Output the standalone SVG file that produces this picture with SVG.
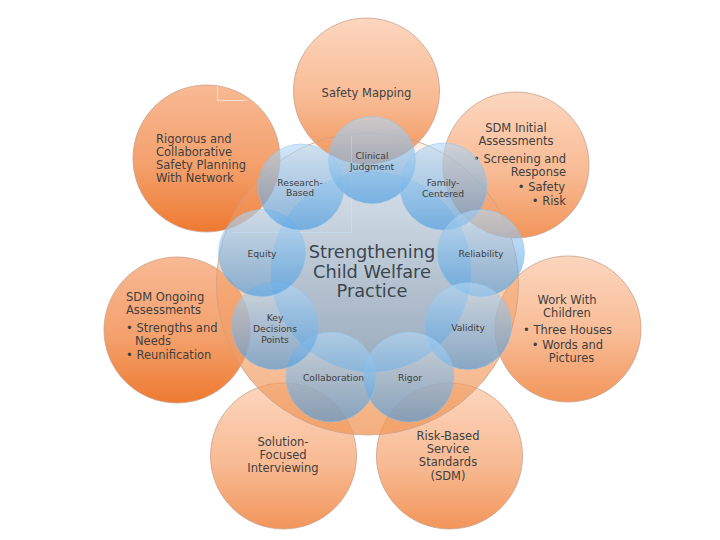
<svg xmlns="http://www.w3.org/2000/svg" width="720" height="540" viewBox="0 0 720 540">
  <defs>
    <linearGradient id="gLight" x1="0" y1="0" x2="0" y2="1">
      <stop offset="0" stop-color="#fcd6bf"/>
      <stop offset="0.55" stop-color="#f8bb94"/>
      <stop offset="1" stop-color="#f2955a"/>
    </linearGradient>
    <linearGradient id="gDeep" x1="0" y1="0" x2="0" y2="1">
      <stop offset="0" stop-color="#f8b994"/>
      <stop offset="0.55" stop-color="#f4a06c"/>
      <stop offset="1" stop-color="#ee7a30"/>
    </linearGradient>
    <linearGradient id="gBig" x1="0" y1="0" x2="0" y2="1">
      <stop offset="0" stop-color="#f3a878" stop-opacity="0.15"/>
      <stop offset="0.5" stop-color="#f2a068" stop-opacity="0.5"/>
      <stop offset="1" stop-color="#f0985a" stop-opacity="0.78"/>
    </linearGradient>
    <linearGradient id="gBlue" x1="0" y1="0" x2="0" y2="1">
      <stop offset="0" stop-color="#b4d8f4"/>
      <stop offset="1" stop-color="#4499e0"/>
    </linearGradient>
    <style>
      .outer { stroke: #c9a08a; stroke-width: 0.8; }
      .big { fill: url(#gBig); stroke: #c9a08a; stroke-width: 0.8; }
      .core { fill: url(#gBlue); fill-opacity: 0.52; stroke: #8cc2ec; stroke-opacity: 0.6; stroke-width: 0.6; }
      .small { fill: url(#gBlue); fill-opacity: 0.62; stroke: #8cc2ec; stroke-opacity: 0.8; stroke-width: 0.6; }
      text { font-family: "DejaVu Sans", Verdana, sans-serif; fill: #404040; }
      .t { font-size: 11.5px; }
      .s { font-size: 9.2px; text-anchor: middle; }
      .c { text-anchor: middle; }
      .r { text-anchor: end; }
      .title { font-size: 17.8px; text-anchor: middle; fill: #3c4650; }
      .art { fill: none; stroke: #ffffff; stroke-width: 1; stroke-opacity: 0.6; }
    </style>
  </defs>

  <g id="node-safety-mapping">
    <circle class="outer" cx="366.5" cy="91" r="73" fill="url(#gLight)"/>
    <text class="t c" x="366.5" y="97">Safety Mapping</text>
  </g>
  <g id="node-rigorous-safety-planning">
    <circle class="outer" cx="206.5" cy="158.5" r="73.5" fill="url(#gDeep)"/>
    <text class="t" x="156" y="143">Rigorous and</text>
    <text class="t" x="156" y="156">Collaborative</text>
    <text class="t" x="156" y="169">Safety Planning</text>
    <text class="t" x="156" y="182">With Network</text>
  </g>
  <g id="node-sdm-initial">
    <circle class="outer" cx="516" cy="165" r="73" fill="url(#gLight)"/>
    <text class="t c" x="516" y="132">SDM Initial</text>
    <text class="t c" x="516" y="145">Assessments</text>
    <text class="t r" x="566" y="163">• Screening and</text>
    <text class="t r" x="566" y="176">Response</text>
    <text class="t r" x="565" y="191">• Safety</text>
    <text class="t r" x="566" y="205">• Risk</text>
  </g>
  <g id="node-sdm-ongoing">
    <circle class="outer" cx="177" cy="330" r="73" fill="url(#gDeep)"/>
    <text class="t" x="126" y="301">SDM Ongoing</text>
    <text class="t" x="126" y="314">Assessments</text>
    <text class="t" x="126" y="332">• Strengths and</text>
    <text class="t" x="135" y="345">Needs</text>
    <text class="t" x="126" y="359">• Reunification</text>
  </g>
  <g id="node-work-with-children">
    <circle class="outer" cx="568" cy="329" r="73" fill="url(#gLight)"/>
    <text class="t c" x="567" y="304">Work With</text>
    <text class="t c" x="567" y="317">Children</text>
    <text class="t c" x="567.5" y="334">• Three Houses</text>
    <text class="t c" x="567.5" y="349">• Words and</text>
    <text class="t c" x="571.5" y="362">Pictures</text>
  </g>
  <g id="node-solution-focused">
    <circle class="outer" cx="283.5" cy="456" r="73" fill="url(#gLight)"/>
    <text class="t c" x="283" y="446">Solution-</text>
    <text class="t c" x="283" y="459">Focused</text>
    <text class="t c" x="283" y="472">Interviewing</text>
  </g>
  <g id="node-risk-based">
    <circle class="outer" cx="449.5" cy="456" r="73" fill="url(#gLight)"/>
    <text class="t c" x="448" y="440">Risk-Based</text>
    <text class="t c" x="448" y="453">Service</text>
    <text class="t c" x="448" y="466">Standards</text>
    <text class="t c" x="448" y="480">(SDM)</text>
  </g>

  <g id="node-practice-base">
    <circle class="big" cx="367.5" cy="284" r="151"/>
  </g>

  <g id="artifacts">
    <path class="art" d="M217.5 86 V100.5 H247"/>
    <path class="art" d="M351.5 136 V232.5 H233"/>
  </g>

  <g id="node-strengthening">
    <circle class="core" cx="371" cy="272" r="100"/>
    <text class="title" x="372" y="258">Strengthening</text>
    <text class="title" x="372" y="278">Child Welfare</text>
    <text class="title" x="372" y="297">Practice</text>
  </g>

  <g id="node-clinical-judgment">
    <circle class="small" cx="372" cy="160" r="43.5"/>
    <text class="s" x="372" y="159">Clinical</text>
    <text class="s" x="372" y="170">Judgment</text>
  </g>
  <g id="node-family-centered">
    <circle class="small" cx="443.5" cy="186.5" r="43.5"/>
    <text class="s" x="443" y="186">Family-</text>
    <text class="s" x="443" y="196.5">Centered</text>
  </g>
  <g id="node-reliability">
    <circle class="small" cx="481" cy="253" r="43.5"/>
    <text class="s" x="481" y="257">Reliability</text>
  </g>
  <g id="node-validity">
    <circle class="small" cx="468" cy="326" r="43.5"/>
    <text class="s" x="468" y="331">Validity</text>
  </g>
  <g id="node-rigor">
    <circle class="small" cx="409" cy="377" r="45"/>
    <text class="s" x="410" y="381">Rigor</text>
  </g>
  <g id="node-collaboration">
    <circle class="small" cx="331" cy="377" r="45"/>
    <text class="s" x="333.5" y="381">Collaboration</text>
  </g>
  <g id="node-key-decisions">
    <circle class="small" cx="275" cy="326" r="43.5"/>
    <text class="s" x="275" y="321">Key</text>
    <text class="s" x="275" y="332">Decisions</text>
    <text class="s" x="275" y="343">Points</text>
  </g>
  <g id="node-equity">
    <circle class="small" cx="262" cy="253" r="43.5"/>
    <text class="s" x="262" y="257">Equity</text>
  </g>
  <g id="node-research-based">
    <circle class="small" cx="301" cy="187" r="43"/>
    <text class="s" x="300" y="185.5">Research-</text>
    <text class="s" x="300" y="196">Based</text>
  </g>

  <g id="connectors"/>
</svg>
